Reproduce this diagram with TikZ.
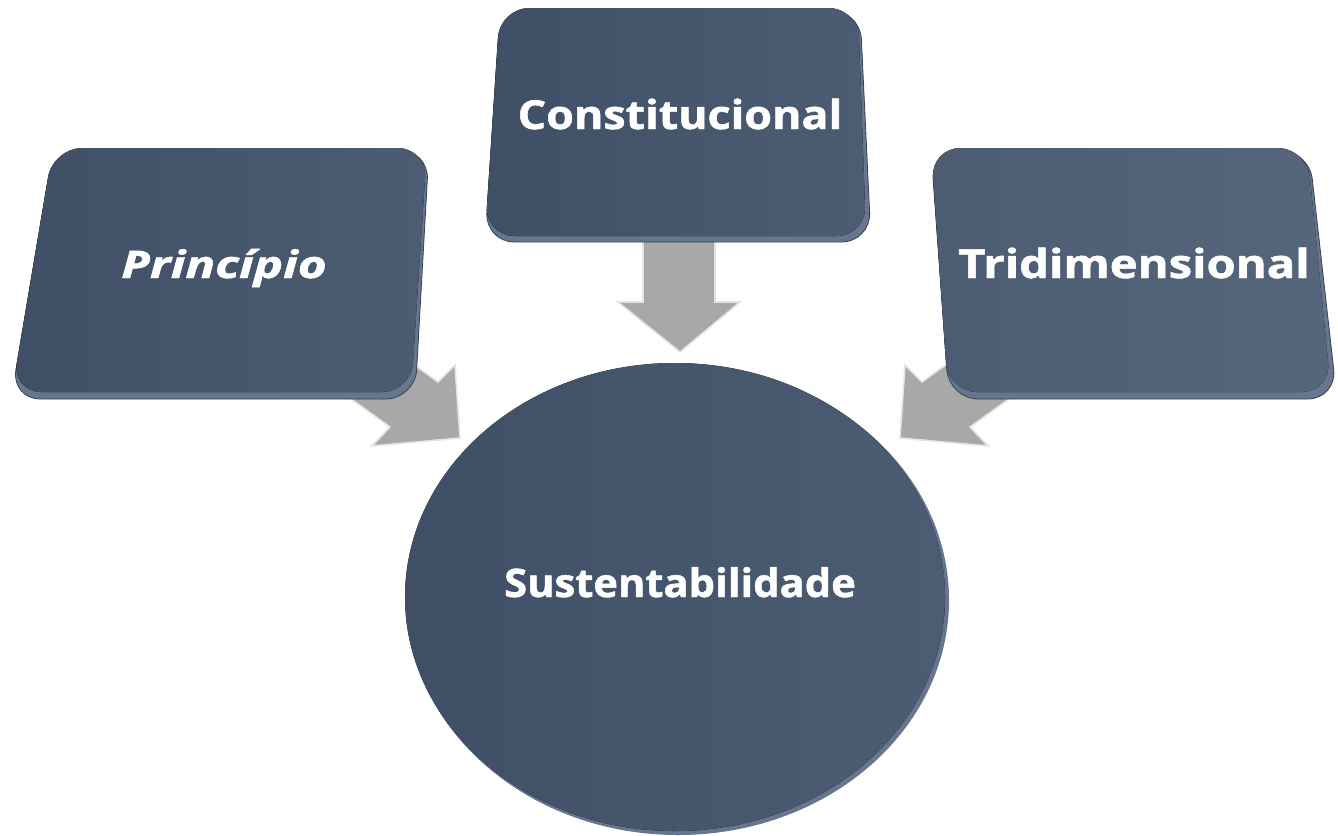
\documentclass[tikz,border=0pt]{standalone}
\usepackage{fontspec}
\setmainfont{Open Sans}
\newfontfamily\lblfont{Open Sans}[BoldFeatures={FakeBold=1.2}, BoldItalicFeatures={FakeBold=1.2}]
\usetikzlibrary{calc}
\definecolor{faceA}{HTML}{3F4F65}
\definecolor{faceB}{HTML}{4C5C72}
\definecolor{faceC}{HTML}{55667C}
\definecolor{rimc}{HTML}{66768E}
\definecolor{rimd}{HTML}{34414F}
\definecolor{arrc}{HTML}{A8A8A8}
\definecolor{arrl}{HTML}{E4E4E4}
\tikzset{
  arrowblock/.style={fill=arrc, draw=arrl, line width=1.2pt, line join=miter},
  rimshape/.style={fill=rimc, draw=rimd, line width=0.6pt, rounded corners=22},
  faceshape/.style={left color=faceA, right color=faceB, rounded corners=22},
  lbl/.style={text=white, font=\lblfont\bfseries, inner sep=0pt, anchor=base}
}
\begin{document}
\begin{tikzpicture}[x=0.75pt,y=-0.75pt]
\useasboundingbox (0,0) rectangle (1338,835);
% arrows (behind)
\draw[arrowblock] (388,346) -- (438,382) -- (455,365) -- (460,438) -- (372,446) -- (390,427) -- (340,391) -- cycle;
\draw[arrowblock] (972,346) -- (922,382) -- (905,365) -- (900,438) -- (988,446) -- (970,427) -- (1020,391) -- cycle;
\draw[arrowblock] (643,230) -- (643,302) -- (618,302) -- (680,352) -- (740,302) -- (715,302) -- (715,230) -- cycle;
% left box
\draw[rimshape] (53,150) -- (429,150) -- (415,399) -- (11,399) -- cycle;
\fill[faceshape] (53,148) -- (427,148) -- (411,392) -- (12,392) -- cycle;
% middle box
\draw[rimshape] (500,10) -- (860,10) -- (871,242) -- (485,242) -- cycle;
\fill[faceshape] (500,8) -- (858,8) -- (866,236) -- (485,236) -- cycle;
% right box
\draw[rimshape] (931,150) -- (1309,150) -- (1337,399) -- (949,399) -- cycle;
\fill[faceshape, left color=faceB, right color=faceC] (931,148) -- (1307,148) -- (1331,392) -- (948,392) -- cycle;
% circle
\fill[rimc] (678,600) ellipse [x radius=271, y radius=235];
\fill[left color=faceA, right color=faceB] (675,597) ellipse [x radius=270, y radius=234];
% labels
\node[lbl] (prin) at (224,278) {\fontsize{28.5}{33}\selectfont\itshape\scalebox{1.3}[1]{Princípio}};
\node[lbl] (cons) at (680,129) {\fontsize{30}{35}\selectfont\scalebox{1.12}[1]{Constitucional}};
\node[lbl] (trid) at (1134,278) {\fontsize{30}{35}\selectfont\scalebox{1.18}[1]{Tridimensional}};
\node[lbl] (sust) at (680,597) {\fontsize{29.5}{34}\selectfont\scalebox{1.06}[1]{Sustentabilidade}};
\end{tikzpicture}
\end{document}
